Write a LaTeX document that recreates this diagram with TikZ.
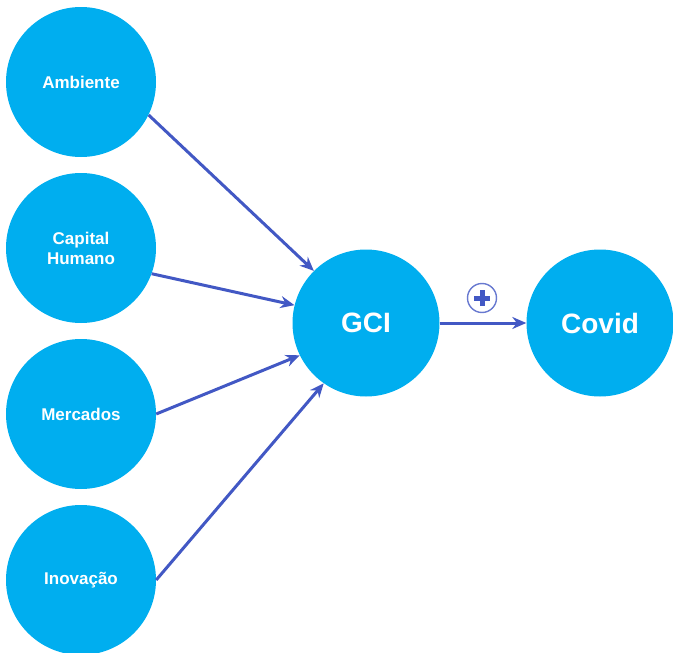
\documentclass[tikz,border=0pt]{standalone}
\usepackage{fontspec}
\setmainfont{Liberation Sans}
\usetikzlibrary{positioning,arrows.meta}

\definecolor{cirfill}{RGB}{0,174,239}
\definecolor{arrcol}{RGB}{66,88,196}

\tikzstyle{fac} = [circle, fill=cirfill, minimum size=150pt, inner sep=0pt, text=white, font=\bfseries\fontsize{17}{20}\selectfont, align=center]
\tikzstyle{big} = [fac, minimum size=147pt, font=\bfseries\fontsize{28}{32}\selectfont]
\tikzstyle{sgn} = [circle, draw=arrcol!80, line width=1.4pt, minimum size=29pt, inner sep=0pt,
  path picture={\draw[arrcol, line width=5pt] (path picture bounding box.center) +(-8pt,0) -- +(8pt,0)
  (path picture bounding box.center) +(0,-8pt) -- +(0,8pt);}]
\tikzstyle{arrow} = [draw=arrcol, line width=3pt, -{Stealth[length=14pt,width=12pt]}]

\begin{document}
\begin{tikzpicture}[x=1pt, y=1pt, node distance=166pt]
\useasboundingbox (0,0) rectangle (673,-653);

%% Factors
\node (amb) [fac] at (81,-82) {Ambiente};
\node (cap) [fac, below of=amb] {Capital\\Humano};
\node (mer) [fac, below of=cap] {Mercados};
\node (ino) [fac, below of=mer] {Inovação};

%% Index and outcome
\node (gci) [big] at (366,-323) {GCI};
\node (cov) [big, right of=gci, xshift=68pt] {Covid};

%% Sign
\node (pls) [sgn] at (482,-298) {};

%% Arrows
\draw [arrow] (amb.-26) -- (gci.135);
\draw [arrow] (cap.-20) -- (gci.166);
\draw [arrow] (mer.0) -- (gci.-154);
\draw [arrow] (ino.0) -- (gci.-125);
\draw [arrow] (gci) -- (cov);
\end{tikzpicture}
\end{document}
